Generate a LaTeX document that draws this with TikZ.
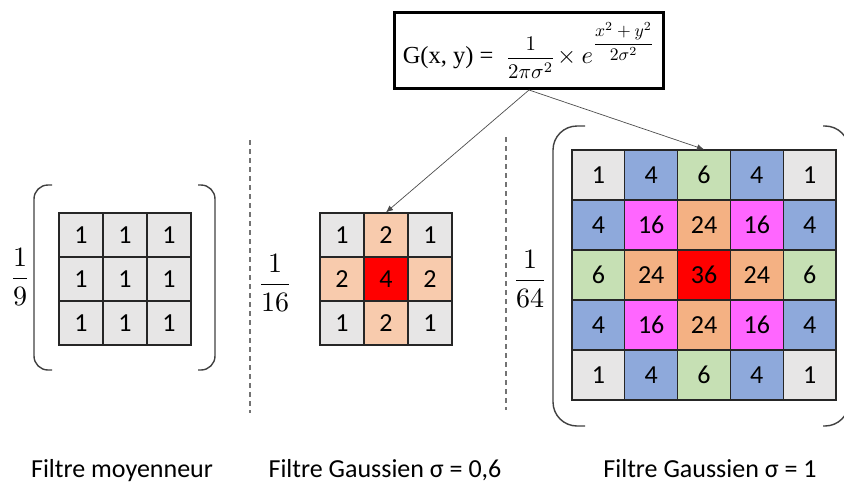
\documentclass[tikz,border=0pt]{standalone}
\usepackage{fontspec}
\setmainfont{Carlito}
\newfontfamily\serifrm{Liberation Serif}
\usetikzlibrary{arrows.meta}
\definecolor{cg}{HTML}{E7E6E6}
\definecolor{cp}{HTML}{F8CBAD}
\definecolor{cr}{HTML}{FF0000}
\definecolor{cb}{HTML}{8EA9DB}
\definecolor{cgr}{HTML}{C6E0B4}
\definecolor{cm}{HTML}{FF66FF}
\definecolor{co}{HTML}{F4B183}
\newcommand{\scfrac}[2]{\scalebox{#1}{$\displaystyle #2$}}
\begin{document}
\begin{tikzpicture}[x=1pt,y=-1pt,
 cell/.style={draw=black!85,line width=1.3pt,inner sep=0pt,font=\fontsize{26}{30}\selectfont},
 sq/.style={cell,minimum width=44pt,minimum height=44pt},
 bigsq/.style={cell,minimum width=52.8pt,minimum height=50pt},
 paren/.style={draw=black!75,line width=1.4pt,rounded corners=14pt},
 bigparen/.style={draw=black!75,line width=1.4pt,rounded corners=24pt},
 sep/.style={draw=black!55,line width=1.2pt,dash pattern=on 5pt off 4pt},
 fracnode/.style={inner sep=0pt},
 lbl/.style={font=\fontsize{26}{30}\selectfont,anchor=base},
 conn/.style={draw=black!70,line width=0.7pt,-{Latex[length=7pt,width=6pt]}},
 formbox/.style={draw=black,line width=3pt,minimum width=269pt,minimum height=76pt,inner sep=0pt}
]
\useasboundingbox (0,0) rectangle (844,482);

% formula
\node[formbox] (formula) at (529,50.5) {\scalebox{2.45}{{\serifrm G(x, y) =}\hspace{5pt}$\vcenter{\hbox{\scalebox{0.85}{$\displaystyle\frac{1}{2\pi\sigma^2}$}}}\!\times e^{\raisebox{1pt}{\scalebox{0.72}{$\displaystyle\frac{x^2+y^2}{2\sigma^2}$}}}$}};

% left matrix
\foreach \i in {0,1,2}{\foreach \j in {0,1,2}{
  \node[sq,fill=cg] (a-\i-\j) at ({81+44*\j},{235+44*\i}) {1};}}
\draw[paren] (52,185) -- (34,185) -- (34,370) -- (52,370);
\draw[paren] (198,185) -- (215,185) -- (215,370) -- (198,370);
\node[fracnode] (fa) at (20,277) {\scfrac{2.8}{\frac{1}{9}}};

% middle matrix
\foreach \row [count=\i from 0] in {{1/cg,2/cp,1/cg},{2/cp,4/cr,2/cp},{1/cg,2/cp,1/cg}}{
  \foreach \v/\c [count=\j from 0] in \row {
    \node[sq,fill=\c] (m-\i-\j) at ({342+44*\j},{235+44*\i}) {\v};}}
\node[fracnode] (fm) at (275,283) {\scfrac{2.8}{\frac{1}{16}}};

% right matrix
\foreach \row [count=\i from 0] in {
  {1/cg,4/cb,6/cgr,4/cb,1/cg},
  {4/cb,16/cm,24/co,16/cm,4/cb},
  {6/cgr,24/co,36/cr,24/co,6/cgr},
  {4/cb,16/cm,24/co,16/cm,4/cb},
  {1/cg,4/cb,6/cgr,4/cb,1/cg}}{
  \foreach \v/\c [count=\j from 0] in \row {
    \node[bigsq,fill=\c] (r-\i-\j) at ({598.4+52.8*\j},{175+50*\i}) {\v};}}
\draw[bigparen] (585,126) -- (553,126) -- (553,426) -- (585,426);
\draw[bigparen] (823,126) -- (849,126) -- (849,426) -- (823,426);
\node[fracnode] (fr) at (530,279) {\scfrac{2.8}{\frac{1}{64}}};

% separators
\coordinate (s1t) at (250,140); \coordinate (s1b) at (250,413);
\coordinate (s2t) at (506,137); \coordinate (s2b) at (506,410);
\draw[sep] (s1t) -- (s1b);
\draw[sep] (s2t) -- (s2b);

% connectors
\draw[conn] (formula.south) -- (m-0-1.north);
\draw[conn] (formula.south) -- (r-0-2.north);

% labels
\node[lbl] (l1) at (122,477) {Filtre moyenneur};
\node[lbl] (l2) at (385,477) {Filtre Gaussien σ = 0,6};
\node[lbl] (l3) at (710,477) {Filtre Gaussien σ = 1};
\end{tikzpicture}
\end{document}
